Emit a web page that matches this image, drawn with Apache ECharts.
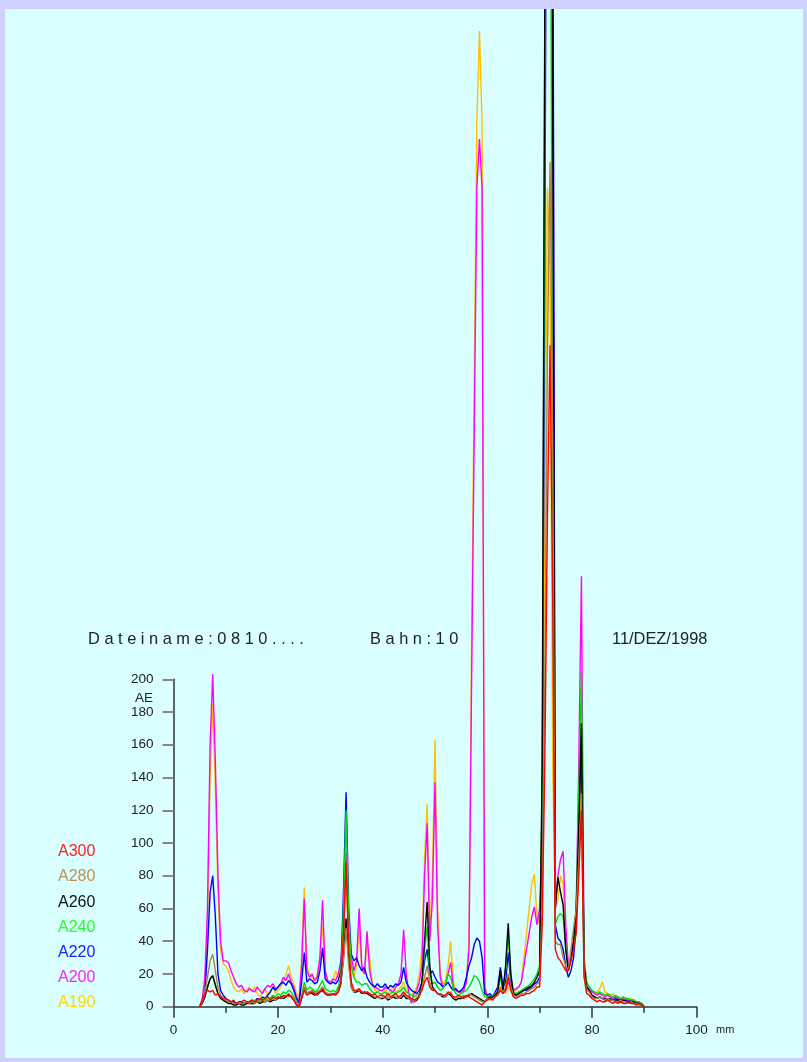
<!DOCTYPE html>
<html>
<head>
<meta charset="utf-8">
<script src="https://cdn.jsdelivr.net/npm/echarts@6/dist/echarts.min.js"></script>
<style>
html,body{margin:0;padding:0;width:807px;height:1062px;background:#D0D0FF;overflow:hidden;}
#chart{position:absolute;left:5px;top:9px;width:798px;height:1049px;background:#D9FFFF;}
</style>
</head>
<body>
<div id="chart"></div>
<script>
// x positions (mm)
var mm = [
 5,5.5,6,6.5,7,7.5,8,8.5,9,9.5,
 10,10.5,11,11.5,12,12.5,13,13.5,14,14.5,
 15,15.5,16,16.5,17,17.5,18,18.5,19,19.5,
 20,20.5,21,21.5,22,22.5,23,23.5,24,24.5,
 25,25.5,26,26.5,27,27.5,28,28.5,29,29.5,
 30,30.5,31,31.5,32,32.5,33,33.5,34,34.5,
 35,35.5,36,36.5,37,37.5,38,38.5,39,39.5,
 40,40.5,41,41.5,42,42.5,43,43.5,44,44.5,
 45,45.5,46,46.5,47,47.5,48,48.5,49,49.5,
 50,50.5,51,51.5,52,52.5,53,53.5,54,54.5,
 55,55.5,56,56.5,57,57.5,58,58.5,59,59.5,
 60,60.5,61,61.5,62,62.5,63,63.5,64,64.5,
 65,65.5,66,66.5,67,67.5,68,68.5,69,69.5,
 70,70.5,71,71.5,72,72.5,73,73.5,74,74.5,
 75,75.5,76,76.5,77,77.5,78,78.5,79,79.5,
 80,80.5,81,81.5,82,82.5,83,83.5,84,84.5,
 85,85.5,86,86.5,87,87.5,88,88.5,89,89.5,
 90];

var A190 = [
 0,4,15,50,140,185,135,70,35,26,
 25,22,16,12,10,9,11,8,10,12,
 9,12,8,6,9,11,7,9,12,8,
 10,12,15,20,25,18,14,8,5,30,
 73,25,20,18,16,20,30,50,20,15,
 14,16,22,18,25,40,80,40,25,18,
 25,48,22,20,38,30,14,10,9,10,
 9,11,8,10,12,9,10,12,15,10,
 8,7,9,12,20,35,90,124,45,80,
 163,60,20,14,15,25,40,15,10,9,
 8,10,15,40,220,380,540,596,540,15,
 5,6,7,6,8,12,10,8,12,10,
 9,10,12,15,30,45,60,75,81,55,
 50,90,300,500,450,150,60,65,80,75,
 40,22,30,38,55,100,150,25,14,12,
 10,8,9,11,15,9,8,7,8,6,
 6,5,6,5,4,5,4,3,3,2,
 0];

var A200 = [
 0,5,18,60,160,203,150,80,40,28,
 28,27,22,18,14,12,13,10,9,11,
 10,9,12,10,8,11,13,12,14,11,
 12,14,18,16,20,15,12,6,3,25,
 66,22,18,20,16,18,30,65,22,16,
 15,17,16,20,28,45,94,45,30,22,
 28,60,25,20,46,22,14,12,11,10,
 10,12,11,10,9,12,14,20,47,20,
 8,2,8,10,15,25,80,112,40,65,
 137,50,18,12,14,20,27,12,10,9,
 9,10,15,35,200,350,500,530,500,12,
 6,7,6,8,7,10,9,10,15,12,
 10,11,12,15,25,35,45,55,61,50,
 60,100,600,900,900,700,60,80,90,95,
 50,25,30,40,60,150,263,30,14,12,
 9,8,7,8,7,6,7,6,5,6,
 5,4,5,4,4,3,4,3,2,2,
 0];

var A220 = [
 0,3,8,35,70,80,55,20,10,7,
 5,4,3,3,2,2,3,2,3,3,
 4,3,5,4,6,5,7,9,12,10,
 12,14,15,13,16,14,10,5,2,15,
 33,15,17,16,14,15,22,36,17,15,
 14,15,14,16,22,70,131,60,32,28,
 30,25,22,24,18,15,13,12,14,12,
 12,14,11,13,12,14,13,15,24,15,
 12,10,9,8,10,15,28,35,20,22,
 18,15,14,12,13,15,12,10,11,9,
 10,12,18,25,30,38,42,40,30,8,
 7,8,6,9,12,24,12,15,33,15,
 8,7,8,9,10,10,11,12,14,15,
 18,120,450,900,1100,750,50,42,40,35,
 25,18,22,30,50,110,170,25,12,10,
 7,6,5,6,5,4,5,4,4,5,
 4,5,3,4,3,4,2,3,2,2,
 0];

var A240 = [
 0,3,7,12,17,19,14,8,6,5,
 4,3,3,2,2,3,2,2,3,3,
 3,4,3,4,5,4,6,5,7,6,
 8,7,9,8,10,9,6,3,1,6,
 15,10,12,11,9,10,13,16,11,10,
 9,10,9,12,18,60,120,55,25,18,
 15,15,13,14,14,11,9,8,9,8,
 8,9,7,8,9,8,9,10,12,9,
 8,7,6,7,8,12,35,49,20,14,
 15,12,10,11,14,20,18,11,8,7,
 8,9,10,12,15,19,18,15,10,6,
 6,7,5,8,10,18,10,22,45,18,
 9,8,9,10,11,12,13,15,17,20,
 25,130,550,1000,800,300,50,55,57,55,
 35,22,28,38,60,130,205,28,15,12,
 10,9,8,9,8,7,8,7,6,7,
 6,5,6,5,5,4,4,3,3,2,
 0];

var A260 = [
 0,2,6,12,17,19,13,8,5,4,
 3,2,2,1,1,2,1,1,2,2,
 2,2,3,2,3,3,4,3,4,4,
 5,6,5,6,7,6,4,2,0,5,
 12,8,9,8,7,8,9,10,8,7,
 7,8,8,9,14,30,54,30,12,9,
 9,10,8,9,8,7,6,5,6,5,
 5,6,4,5,6,5,6,5,7,5,
 5,4,3,4,6,15,40,64,25,12,
 10,8,7,6,6,8,7,5,4,5,
 5,6,6,7,8,7,6,5,4,3,
 5,6,5,7,9,22,10,25,51,20,
 8,7,8,9,10,11,12,13,15,18,
 22,150,620,1000,1100,550,60,79,70,62,
 35,22,30,40,60,110,173,25,12,10,
 7,6,5,6,5,5,4,5,4,4,
 4,3,4,3,3,2,3,2,2,1,
 0];

var A280 = [
 0,3,8,18,28,32,22,12,7,5,
 4,3,3,2,2,2,2,2,3,2,
 3,2,3,3,4,3,4,4,5,4,
 6,5,6,7,6,7,5,2,1,6,
 12,8,9,10,8,9,10,12,9,8,
 8,7,8,10,15,28,48,25,12,9,
 10,10,9,8,9,8,7,6,6,5,
 6,5,6,5,7,6,5,6,8,6,
 5,4,3,5,6,12,18,25,15,10,
 10,8,7,7,6,8,9,6,5,6,
 6,7,6,8,7,6,5,4,3,3,
 5,4,5,6,7,12,8,12,20,12,
 7,6,7,8,8,9,10,11,12,14,
 15,60,200,400,516,350,40,38,38,30,
 25,22,35,48,60,90,130,20,10,9,
 6,5,5,6,5,4,5,4,4,3,
 3,4,3,3,2,3,2,2,1,1,
 0];

var A300 = [
 0,4,8,10,9,10,7,8,6,5,
 5,4,3,4,2,3,3,4,3,3,
 4,3,4,5,4,5,6,4,6,5,
 6,5,7,6,8,6,4,1,0,5,
 10,7,8,9,8,7,9,11,8,7,
 7,8,7,9,15,45,88,35,15,10,
 10,11,9,8,9,8,7,8,6,7,
 7,6,8,6,7,8,6,7,9,7,
 6,5,4,5,7,10,15,18,12,10,
 10,8,8,7,7,9,8,6,6,7,
 6,5,7,6,5,4,3,2,1,3,
 4,5,4,6,8,10,8,10,18,10,
 6,5,6,7,7,8,8,9,10,12,
 12,50,150,300,404,250,35,30,28,25,
 22,22,28,35,45,80,120,18,8,7,
 5,4,3,4,3,3,4,3,2,3,
 2,3,2,2,3,2,2,1,2,1,
 0];

var names = ['A300','A280','A260','A240','A220','A200','A190'];
var lineColors = ['#FF0000','#B08040','#000000','#00E000','#0000FF','#FF00FF','#FFC000'];
var textColors = ['#FF2020','#C09050','#101010','#20FF20','#2020FF','#FF20FF','#FFD700'];
var seriesData = {A300:A300,A280:A280,A260:A260,A240:A240,A220:A220,A200:A200,A190:A190};
var yTicks = [0,20,40,60,80,100,120,140,160,180,200];
var xTicks = [0,20,40,60,80,100];

var FONT = 'Liberation Sans, Arial, sans-serif';
var chart = echarts.init(document.getElementById('chart'), null, {renderer:'canvas'});

// layout of the axes box (pixels inside the chart div)
var G = {left:168.5, right:106.5, top:670.3, bottom:51.3};
var divH = 1049;
var axisPx = divH - G.top - G.bottom;         // pixel height of 0..200
var dataPx = divH - G.bottom;                  // data grid spans to top of div
var dataMax = yTicks[yTicks.length-1] * dataPx / axisPx; // same scale, extended upwards

var series = [];
// draw A190 first (bottom), A300 last (top)
for (var i = names.length - 1; i >= 0; i--) {
  var arr = seriesData[names[i]];
  var pts = [];
  for (var k = 0; k < mm.length; k++) pts.push([mm[k], arr[k]]);
  series.push({
    name: names[i], type: 'line', data: pts, showSymbol: false,
    xAxisIndex: 1, yAxisIndex: 1,
    lineStyle: {color: lineColors[i], width: 1.4}, itemStyle:{color: lineColors[i]},
    z: 2, silent: true
  });
}

var graphics = [
  {type:'text', x:83, y:630, style:{text:'D a t e i n a m e : 0 8 1 0 . . . .', fill:'#222', font:'16.4px ' + FONT, verticalAlign:'middle'}},
  {type:'text', x:365, y:630, style:{text:'B a h n : 1 0', fill:'#222', font:'16.4px ' + FONT, verticalAlign:'middle'}},
  {type:'text', x:607, y:630, style:{text:'11/DEZ/1998', fill:'#222', font:'16.4px ' + FONT, verticalAlign:'middle'}},
  {type:'text', x:148, y:689, style:{text:'AE', fill:'#222', font:'13.5px ' + FONT, align:'right', verticalAlign:'middle'}},
  {type:'text', x:711, y:1021, style:{text:'mm', fill:'#222', font:'11px ' + FONT, align:'left', verticalAlign:'middle'}}
];
var legendY = [843, 868, 894, 919, 944, 969, 994];
for (var j = 0; j < names.length; j++) {
  graphics.push({type:'text', x:53, y:legendY[j], style:{text:names[j], fill:textColors[j], font:'16px ' + FONT, align:'left', verticalAlign:'middle'}});
}

chart.setOption({
  animation: false,
  backgroundColor: 'transparent',
  grid: [
    {left:G.left, right:G.right, top:G.top, bottom:G.bottom, containLabel:false},
    {left:G.left, right:G.right, top:0, bottom:G.bottom, containLabel:false}
  ],
  xAxis: [{
    gridIndex:0, type:'value', min:xTicks[0], max:xTicks[xTicks.length-1], interval:20,
    axisLine:{show:true, lineStyle:{color:'#333', width:1.5}},
    axisTick:{show:true, length:11, lineStyle:{color:'#333', width:1.5}},
    minorTick:{show:true, splitNumber:2, length:6, lineStyle:{color:'#333', width:1.5}},
    axisLabel:{margin:17, color:'#222', fontSize:13.5, fontFamily:FONT},
    splitLine:{show:false}
  }, {
    gridIndex:1, type:'value', min:xTicks[0], max:xTicks[xTicks.length-1], show:false
  }],
  yAxis: [{
    gridIndex:0, type:'value', min:yTicks[0], max:yTicks[yTicks.length-1], interval:20,
    axisLine:{show:true, lineStyle:{color:'#333', width:1.5}},
    axisTick:{show:true, length:11, lineStyle:{color:'#888', width:2}},
    axisLabel:{margin:20, color:'#222', fontSize:13.5, fontFamily:FONT},
    splitLine:{show:false}
  }, {
    gridIndex:1, type:'value', min:0, max:dataMax, show:false, splitLine:{show:false}
  }],
  graphic: graphics,
  series: series
});
</script>
</body>
</html>
